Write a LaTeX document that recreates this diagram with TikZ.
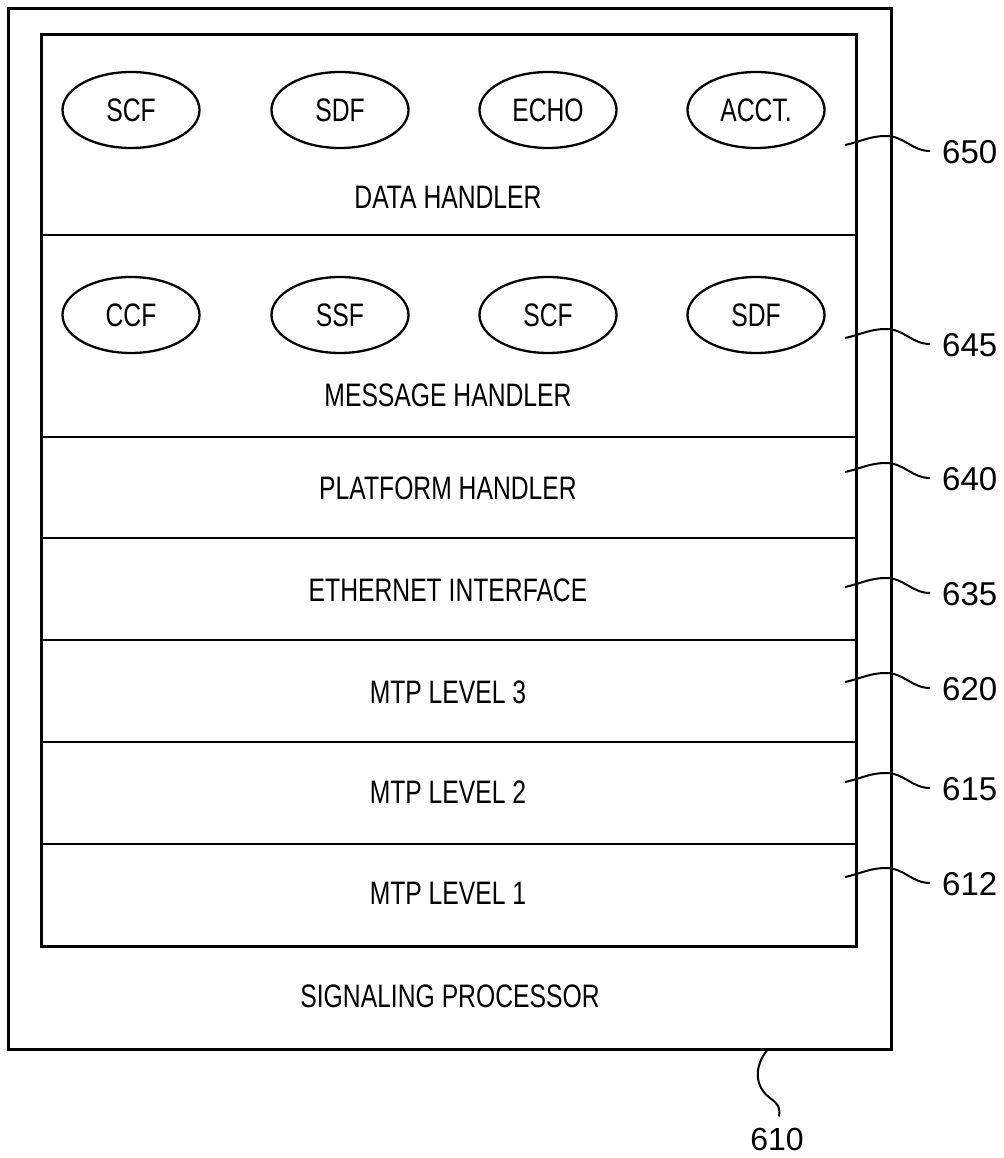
\documentclass[tikz,border=0pt]{standalone}
\usepackage{fontspec}
\setmainfont{Liberation Sans}[FakeStretch=0.76]
\newfontfamily\lblfont{Liberation Sans}
\usetikzlibrary{shapes.geometric}
\begin{document}
\begin{tikzpicture}[x=1pt,y=-1pt,
  boxline/.style={line width=3pt},
  rowline/.style={line width=2.6pt},
  func/.style={draw, ellipse, line width=2.3pt, minimum width=137pt, minimum height=76pt, inner sep=0pt, font=\fontsize{32.5}{38}\selectfont},
  rowtext/.style={font=\fontsize{32.5}{38}\selectfont, inner sep=0pt},
  reflabel/.style={font=\lblfont\fontsize{33}{38}\selectfont, inner sep=0pt, anchor=west},
  leader/.style={line width=2pt}]
\useasboundingbox (0,0) rectangle (1003,1158);
% outer and inner boxes
\draw[boxline] (8,9) rectangle (891,1049);
\draw[boxline] (41,35) rectangle (856,946);
\foreach \y in {235,437,538,640,742,844} \draw[rowline] (41,\y) -- (856,\y);
% data handler
\node[func] (dscf) at (131,110) {SCF};
\node[func] (dsdf) at (340,110) {SDF};
\node[func] (decho) at (548,110) {ECHO};
\node[func] (dacct) at (756,110) {ACCT.};
\node[rowtext] (dh) at (448,197) {DATA HANDLER};
% message handler
\node[func] (mccf) at (131,315) {CCF};
\node[func] (mssf) at (340,315) {SSF};
\node[func] (mscf) at (548,315) {SCF};
\node[func] (msdf) at (756,315) {SDF};
\node[rowtext] (mh) at (448,395) {MESSAGE HANDLER};
% other rows
\node[rowtext] (ph) at (448,488) {PLATFORM HANDLER};
\node[rowtext] (ei) at (448,590) {ETHERNET INTERFACE};
\node[rowtext] (m3) at (448,692) {MTP LEVEL 3};
\node[rowtext] (m2) at (448,792) {MTP LEVEL 2};
\node[rowtext] (m1) at (448,893) {MTP LEVEL 1};
\node[rowtext] (sp) at (450,996) {SIGNALING PROCESSOR};
% reference labels with leaders
\foreach \n/\yl in {650/152,645/345,640/479,635/594,620/689,615/789,612/884}{
  \node[reflabel] (l\n) at (942,\yl) {\n};
  \coordinate (s\n) at (845,\yl-7);
  \coordinate (p\n) at (886,\yl-16);
  \draw[leader] (s\n) to[out=12,in=180] (p\n) to[out=0,in=180] ([xshift=-12pt,yshift=1pt]l\n.west);
}
% 610
\node[font=\lblfont\fontsize{32}{38}\selectfont, inner sep=0pt] (l610) at (777,1139) {610};
\coordinate (s610) at (768,1049);
\draw[leader] (s610) .. controls (754,1066) and (754,1086) .. (770,1098) .. controls (780,1105) and (780,1110) .. ([xshift=2pt,yshift=11pt]l610.north);
\end{tikzpicture}
\end{document}
